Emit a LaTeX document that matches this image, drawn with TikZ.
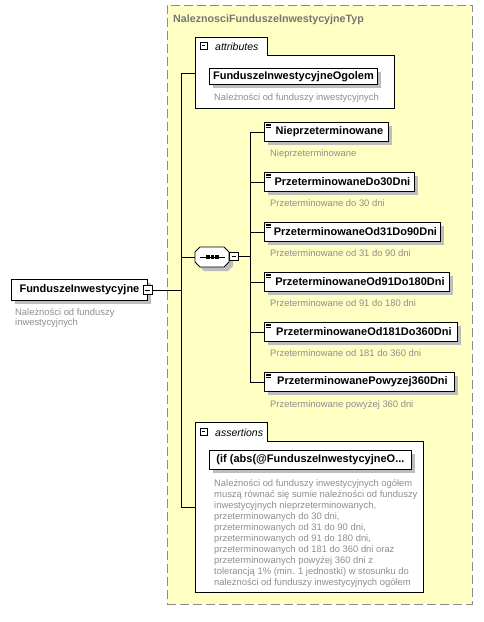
\documentclass[tikz,border=0pt]{standalone}
\usepackage{fontspec}
\setmainfont{Liberation Sans}
\usetikzlibrary{shadows}
\definecolor{ybg}{HTML}{FFFFC4}
\definecolor{dgray}{HTML}{8C8C8C}
\definecolor{desc}{HTML}{8E8E8E}
\definecolor{shd}{HTML}{BDBDBD}
\definecolor{ttl}{HTML}{767676}
\begin{document}
\begin{tikzpicture}[x=1pt,y=-1pt,
  lw/.style={line width=0.9pt},
  box/.style={draw=black, line width=0.9pt, fill=white, inner sep=0pt, anchor=north west,
    font=\bfseries\fontsize{11}{12}\selectfont,
    drop shadow={shadow xshift=4pt, shadow yshift=-4pt, fill=shd, opacity=1}},
  elemicon/.style={path picture={
    \foreach \d in {1.8,3.3,4.8}{\draw[line width=0.6pt] ([shift={(1.5pt,-\d pt)}]path picture bounding box.north west) -- ++(5pt,0pt);}}},
  desctext/.style={font=\fontsize{9.4}{10}\selectfont, text=desc, anchor=base west, inner sep=0pt, align=left},
  minusbox/.style={draw=black, line width=0.7pt, fill=white, minimum size=8.5pt, inner sep=0pt,
    path picture={\draw[line width=0.7pt] ([xshift=1.8pt]path picture bounding box.west) -- ([xshift=-1.8pt]path picture bounding box.east);}},
  tabtext/.style={font=\itshape\fontsize{10.5}{12}\selectfont, anchor=base west, inner sep=0pt},
  conn/.style={line width=0.9pt}
]
\useasboundingbox (0,0) rectangle (483,622);
\fill[white] (0,0) rectangle (483,622);

% outer complex type frame
\node[draw=dgray, line width=0.9pt, dash pattern=on 9pt off 4pt, fill=ybg, inner sep=0pt,
  minimum width=305pt, minimum height=599pt, anchor=north west] (frame) at (167,5) {};
\node[font=\bfseries\fontsize{10.7}{12}\selectfont, text=ttl, anchor=base west, inner sep=0pt] (title) at (173,22) {NaleznosciFunduszeInwestycyjneTyp};

% root element
\node[box, minimum width=136pt, minimum height=21pt] (root) at (11,279) {FunduszeInwestycyjne};
\node[minusbox] (rootminus) at (root.east) {};
\node[desctext] (rootdesc) at (15,325.8) {Należności od funduszy\\inwestycyjnych};

% attributes group
\draw[lw, fill=white] (195,37) -- (267,37) -- (267,55) -- (394,55) -- (394,108) -- (195,108) -- cycle;
\node[inner sep=0pt, minimum width=199pt, minimum height=53pt, anchor=north west] (attrgrp) at (195,55) {};
\node[minusbox, minimum size=7pt] (attrminus) at (203.5,45.5) {};
\node[tabtext] (attrlabel) at (215,50.5) {attributes};
\node[box, minimum width=168pt, minimum height=16pt] (ogolem) at (209,68) {FunduszeInwestycyjneOgolem};
\node[desctext] (ogolemdesc) at (214,100.5) {Należności od funduszy inwestycyjnych};

% trunk
\coordinate (ttop) at (181,73);
\coordinate (tbot) at (181,507);
\draw[conn] (ttop) -- (tbot);
\draw[conn] (ttop) -- (ttop -| attrgrp.west);
\draw[conn] (rootminus.east) -- (rootminus.east -| ttop);

% sequence compositor
\fill[shd] (199,256) -- (204,251) -- (228,251) -- (233,256) -- (233,266) -- (228,271) -- (204,271) -- (199,266) -- cycle;
\draw[lw, fill=white] (195,252) -- (200,247) -- (224,247) -- (229,252) -- (229,262) -- (224,267) -- (200,267) -- (195,262) -- cycle;
\node[inner sep=0pt, minimum width=34pt, minimum height=20pt] (seq) at (212,257) {};
\draw[line width=0.9pt] (199.5,257) -- (224.5,257);
\foreach \cx in {208,212.5,217}{\fill (\cx-1.6,255.4) rectangle (\cx+1.6,258.6);}
\node[minusbox] (seqminus) at (234,256.5) {};
\draw[conn] (seq.west -| ttop) -- (seq.west);

% sequence children
\coordinate (btop) at (250,131.5);
\coordinate (bbot) at (250,381.5);
\draw[conn] (btop) -- (bbot);
\draw[conn] (seqminus.east) -- (seqminus.east -| btop);

\node[box, elemicon, minimum width=124pt, minimum height=19pt] (c1) at (264,122) {\hspace{6pt}Nieprzeterminowane};
\node[desctext] (d1) at (270,156.5) {Nieprzeterminowane};
\node[box, elemicon, minimum width=150pt, minimum height=19pt] (c2) at (264,172) {\hspace{6pt}PrzeterminowaneDo30Dni};
\node[desctext] (d2) at (270,206.5) {Przeterminowane do 30 dni};
\node[box, elemicon, minimum width=176pt, minimum height=19pt] (c3) at (264,222) {\hspace{6pt}PrzeterminowaneOd31Do90Dni};
\node[desctext] (d3) at (270,256.5) {Przeterminowane od 31 do 90 dni};
\node[box, elemicon, minimum width=185pt, minimum height=19pt] (c4) at (264,272) {\hspace{6pt}PrzeterminowaneOd91Do180Dni};
\node[desctext] (d4) at (270,306.5) {Przeterminowane od 91 do 180 dni};
\node[box, elemicon, minimum width=193pt, minimum height=19pt] (c5) at (264,322) {\hspace{6pt}PrzeterminowaneOd181Do360Dni};
\node[desctext] (d5) at (270,356.5) {Przeterminowane od 181 do 360 dni};
\node[box, elemicon, minimum width=190pt, minimum height=19pt] (c6) at (264,372) {\hspace{6pt}PrzeterminowanePowyzej360Dni};
\node[desctext] (d6) at (270,407) {Przeterminowane powyżej 360 dni};
\foreach \c in {c1,c2,c3,c4,c5,c6}{\draw[conn] (\c.west -| btop) -- (\c.west);}

% assertions group
\draw[lw, fill=white] (195,422) -- (267,422) -- (267,441) -- (423,441) -- (423,592) -- (195,592) -- cycle;
\node[inner sep=0pt, minimum width=228pt, minimum height=151pt, anchor=north west] (assertgrp) at (195,441) {};
\node[minusbox, minimum size=7pt] (assertminus) at (203.5,431.5) {};
\node[tabtext] (assertlabel) at (215,436) {assertions};
\node[box, minimum width=202pt, minimum height=19pt] (assert) at (209,450) {(if (abs(@FunduszeInwestycyjneO...};
\node[desctext, font=\fontsize{9.4}{11}\selectfont] (assertdesc) at (214,585) {Należności od funduszy inwestycyjnych ogółem\\
muszą równać się sumie należności od funduszy\\
inwestycyjnych nieprzeterminowanych,\\
przeterminowanych do 30 dni,\\
przeterminowanych od 31 do 90 dni,\\
przeterminowanych od 91 do 180 dni,\\
przeterminowanych od 181 do 360 dni oraz\\
przeterminowanych powyżej 360 dni z\\
tolerancją 1\% (min. 1 jednostki) w stosunku do\\
należności od funduszy inwestycyjnych ogółem};
\draw[conn] (tbot) -- (tbot -| assertgrp.west);
\end{tikzpicture}
\end{document}
